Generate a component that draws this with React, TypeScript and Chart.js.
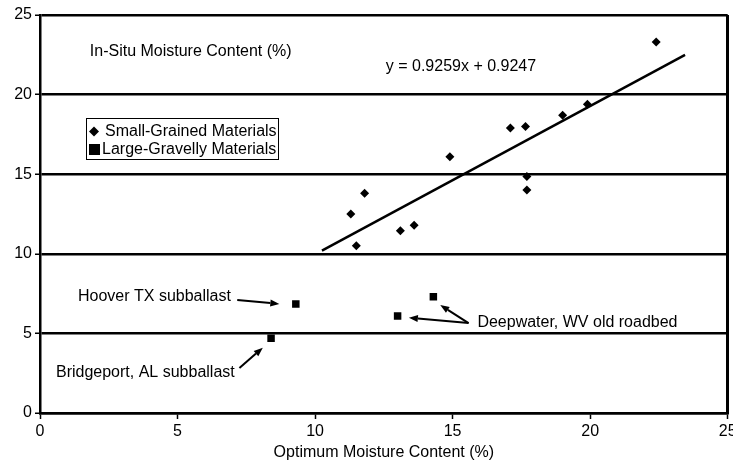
import React, { useEffect, useRef } from "react";
import { Chart, registerables } from "chart.js";

Chart.register(...registerables);

// Small-grained materials (diamonds)
const smallX = [11.5, 11.3, 11.8, 13.1, 13.6, 14.9, 17.1, 17.65, 17.7, 17.7, 19.0, 19.9, 22.4];
const smallY = [10.5, 12.5, 13.8, 11.45, 11.8, 16.1, 17.9, 18.0, 14.85, 14.0, 18.7, 19.4, 23.3];

// Large-gravelly materials (squares)
const largeX = [9.3, 13.0, 14.3, 8.4];
const largeY = [6.85, 6.1, 7.3, 4.7];

// Trend line end points (as drawn)
const trendX = [10.25, 23.45];
const trendY = [10.2, 22.5];

// Axis ticks
const xTicks = [0, 5, 10, 15, 20, 25];
const yTicks = [0, 5, 10, 15, 20, 25];

const seriesLabels = ["Small-Grained Materials", "Large-Gravelly Materials"];
const xTitle = "Optimum Moisture Content (%)";

// Annotation texts (data coordinates, left edge / vertical middle)
const noteTexts = [
  "In-Situ Moisture Content (%)",
  "y = 0.9259x + 0.9247",
  "Hoover TX subballast",
  "Bridgeport, AL subballast",
  "Deepwater, WV old roadbed",
];
const noteX = [1.81, 12.57, 1.38, 0.58, 15.9];
const noteY = [22.67, 21.75, 7.29, 2.51, 5.65];

// Annotation arrows (data coordinates)
const arrowFromX = [7.17, 7.25, 15.58, 15.58];
const arrowFromY = [7.1, 2.83, 5.65, 5.65];
const arrowToX = [8.7, 8.1, 13.41, 14.55];
const arrowToY = [6.85, 4.1, 5.99, 6.78];

const FONT = '"Liberation Sans", Arial, sans-serif';

const annotationPlugin = {
  id: "annotations",
  afterDatasetsDraw(chart: any) {
    const ctx = chart.ctx as CanvasRenderingContext2D;
    const xs = chart.scales.x;
    const ys = chart.scales.y;
    ctx.save();
    ctx.fillStyle = "#000";
    ctx.strokeStyle = "#000";
    ctx.font = `16px ${FONT}`;
    ctx.textAlign = "left";
    ctx.textBaseline = "middle";
    noteTexts.forEach((t, i) => {
      ctx.fillText(t, xs.getPixelForValue(noteX[i]), ys.getPixelForValue(noteY[i]));
    });

    // arrows
    arrowFromX.forEach((_, i) => {
      const x1 = xs.getPixelForValue(arrowFromX[i]);
      const y1 = ys.getPixelForValue(arrowFromY[i]);
      const x2 = xs.getPixelForValue(arrowToX[i]);
      const y2 = ys.getPixelForValue(arrowToY[i]);
      const ang = Math.atan2(y2 - y1, x2 - x1);
      const head = 9;
      const half = 3.5;
      const bx = x2 - Math.cos(ang) * head;
      const by = y2 - Math.sin(ang) * head;
      ctx.lineWidth = 2;
      ctx.beginPath();
      ctx.moveTo(x1, y1);
      ctx.lineTo(bx, by);
      ctx.stroke();
      ctx.beginPath();
      ctx.moveTo(x2, y2);
      ctx.lineTo(bx - Math.sin(ang) * half, by + Math.cos(ang) * half);
      ctx.lineTo(bx + Math.sin(ang) * half, by - Math.cos(ang) * half);
      ctx.closePath();
      ctx.fill();
    });

    // legend box
    const area = chart.chartArea;
    const lx = area.left + 46;
    const ly = area.top + 103;
    const lw = 192;
    const lh = 41;
    ctx.fillStyle = "#fff";
    ctx.fillRect(lx, ly, lw, lh);
    ctx.lineWidth = 1;
    ctx.strokeStyle = "#000";
    ctx.strokeRect(lx + 0.5, ly + 0.5, lw, lh);
    ctx.fillStyle = "#000";
    // diamond
    const r1y = ly + 13.5;
    const dcx = lx + 8;
    ctx.beginPath();
    ctx.moveTo(dcx - 5, r1y);
    ctx.lineTo(dcx, r1y - 5);
    ctx.lineTo(dcx + 5, r1y);
    ctx.lineTo(dcx, r1y + 5);
    ctx.closePath();
    ctx.fill();
    // square
    const r2y = ly + 31.5;
    ctx.fillRect(lx + 3, r2y - 5.5, 11, 11);
    ctx.font = `16px ${FONT}`;
    ctx.fillText(seriesLabels[0], lx + 19, r1y);
    ctx.fillText(seriesLabels[1], lx + 16, r2y);
    ctx.restore();
  },
};

export default function App() {
  const ref = useRef<HTMLCanvasElement | null>(null);

  useEffect(() => {
    if (!ref.current) return;
    const chart = new Chart(ref.current, {
      type: "scatter",
      data: {
        datasets: [
          {
            label: seriesLabels[0],
            data: smallX.map((x, i) => ({ x, y: smallY[i] })),
            pointStyle: "rectRot",
            pointRadius: 4.5,
            backgroundColor: "#000",
            borderColor: "#000",
            borderWidth: 0,
          },
          {
            label: seriesLabels[1],
            data: largeX.map((x, i) => ({ x, y: largeY[i] })),
            pointStyle: "rect",
            pointRadius: 5.3,
            backgroundColor: "#000",
            borderColor: "#000",
            borderWidth: 0,
          },
          {
            type: "line",
            label: "Trend",
            data: trendX.map((x, i) => ({ x, y: trendY[i] })),
            borderColor: "#000",
            borderWidth: 2.5,
            pointRadius: 0,
            showLine: true,
            fill: false,
          } as any,
        ],
      },
      options: {
        animation: false,
        responsive: false,
        devicePixelRatio: 1,
        layout: { padding: { top: 15, right: 3, left: 0, bottom: 0 } },
        plugins: {
          legend: { display: false },
          tooltip: { enabled: false },
        },
        scales: {
          x: {
            type: "linear",
            min: 0,
            max: 25,
            afterBuildTicks: (s: any) => {
              s.ticks = xTicks.map((v) => ({ value: v }));
            },
            ticks: {
              color: "#000",
              font: { family: FONT, size: 16 },
              padding: 3,
              maxRotation: 0,
            },
            grid: {
              color: (c: any) => (c.tick && c.tick.value === 25 ? "#000" : "rgba(0,0,0,0)"),
              lineWidth: 3,
              tickColor: "#000",
              tickWidth: 1.5,
              tickLength: 6,
              drawOnChartArea: true,
            },
            border: { display: true, color: "#000", width: 2.5 },
            title: {
              display: true,
              text: xTitle,
              color: "#000",
              font: { family: FONT, size: 16 },
              padding: { top: 4, bottom: 1 },
            },
            afterFit: (s: any) => {
              s.height = 50;
              s.paddingLeft = 0;
              s.paddingRight = 0;
            },
          },
          y: {
            type: "linear",
            min: 0,
            max: 25,
            afterBuildTicks: (s: any) => {
              s.ticks = yTicks.map((v) => ({ value: v }));
            },
            ticks: {
              color: "#000",
              font: { family: FONT, size: 16 },
              padding: 3,
            },
            grid: {
              color: "#000",
              lineWidth: 2.5,
              tickColor: "#000",
              tickWidth: 1.5,
              tickLength: 5,
            },
            border: { display: true, color: "#000", width: 2.5 },
            afterFit: (s: any) => {
              s.width = 40;
            },
          },
        },
      },
      plugins: [annotationPlugin],
    });
    return () => chart.destroy();
  }, []);

  return (
    <div style={{ position: "fixed", left: 0, top: 0, width: 733, height: 463, background: "#fff" }}>
      <canvas ref={ref} width={733} height={463} style={{ display: "block" }} />
    </div>
  );
}
